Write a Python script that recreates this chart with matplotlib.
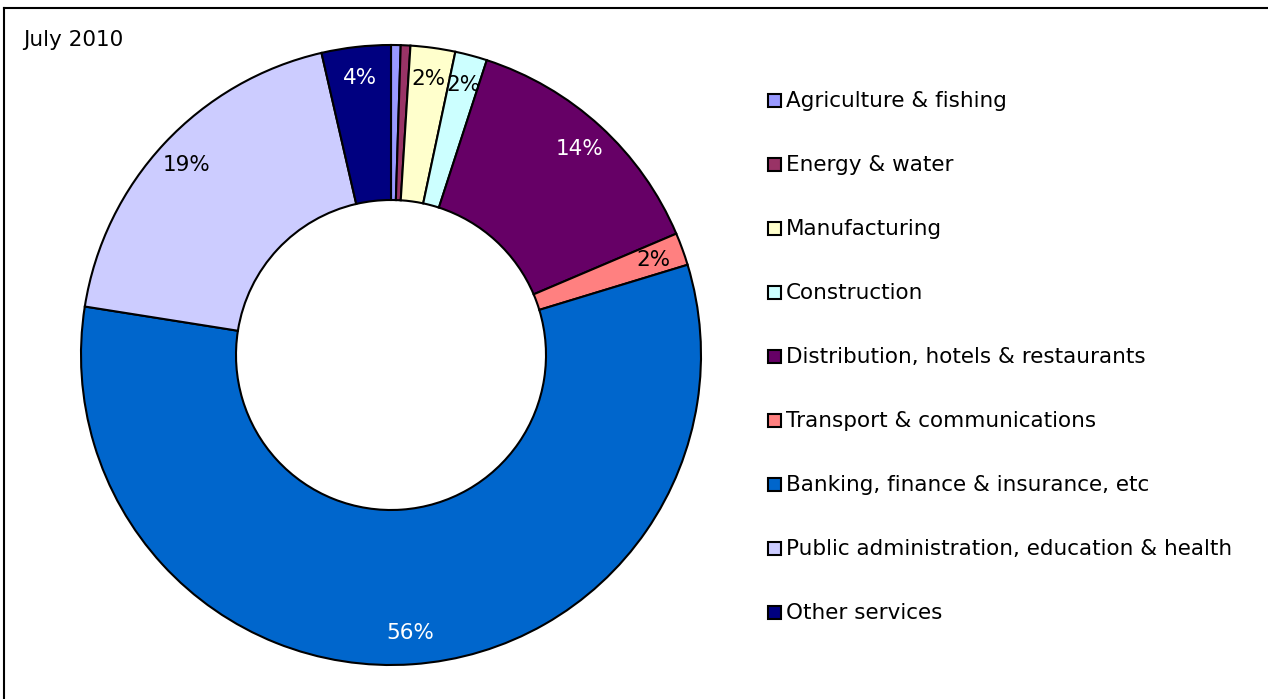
import numpy as np
import matplotlib
matplotlib.use("Agg")
import matplotlib.pyplot as plt
from matplotlib.patches import Rectangle
from matplotlib.lines import Line2D

# Sector shares, July 2010
sectors = ['Agriculture & fishing', 'Energy & water', 'Manufacturing',
           'Construction', 'Distribution, hotels & restaurants',
           'Transport & communications', 'Banking, finance & insurance, etc',
           'Public administration, education & health', 'Other services']
shares = [0.5, 0.5, 2.33, 1.67, 13.6, 1.7, 57.2, 18.9, 3.6]
pct_labels = ['', '', '2%', '2%', '14%', '2%', '56%', '19%', '4%']
colors = ['#9999FF', '#993366', '#FFFFCC', '#CCFFFF', '#660066',
          '#FF8080', '#0066CC', '#CCCCFF', '#000080']
label_colors = ['black', 'black', 'black', 'black', 'white',
                'black', 'white', 'black', 'white']

W, H = 1268, 699
fig = plt.figure(figsize=(W / 100, H / 100), dpi=100)
plt.rcParams['font.family'] = 'DejaVu Sans'

# frame lines (top and left only)
fig.add_artist(Line2D([4 / W, 1], [1 - 8 / H, 1 - 8 / H], color='black', lw=1.5))
fig.add_artist(Line2D([4 / W, 4 / W], [0, 1 - 8 / H], color='black', lw=1.5))

# donut axes: centre (391, 355), radius 310 px
cx, cy, r = 391, 355, 310
ax = fig.add_axes([(cx - r) / W, (H - cy - r) / H, 2 * r / W, 2 * r / H])
wedges, _ = ax.pie(shares, colors=colors, startangle=90, counterclock=False,
                   radius=1, wedgeprops=dict(width=0.5, edgecolor='black', linewidth=1.5))
ax.set_xlim(-1, 1)
ax.set_ylim(-1, 1)
ax.set_aspect('auto')
ax.axis('off')

for w, lab, tc in zip(wedges, pct_labels, label_colors):
    if not lab:
        continue
    ang = np.deg2rad((w.theta1 + w.theta2) / 2)
    ax.text(0.9 * np.cos(ang), 0.9 * np.sin(ang), lab, ha='center', va='center',
            fontsize=15.5, color=tc)

fig.text(23 / W, 1 - 40 / H, 'July 2010', fontsize=15.5, va='center', ha='left')

# legend
for i, (name, c) in enumerate(zip(sectors, colors)):
    y = 101 + 64 * i
    fig.add_artist(Rectangle((768 / W, 1 - (y + 6) / H), 13 / W, 13 / H,
                             facecolor=c, edgecolor='black', lw=1.5))
    fig.text(786 / W, 1 - y / H, name, fontsize=15.5, va='center', ha='left')

fig.savefig('out.png', dpi=100)
